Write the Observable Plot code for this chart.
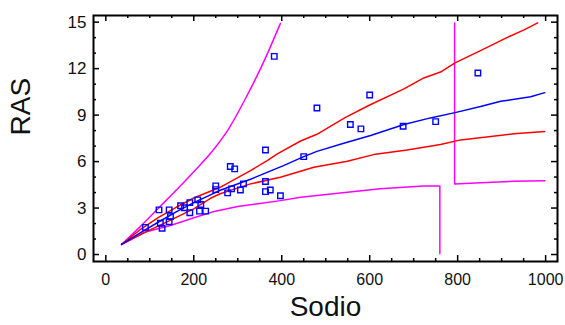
<!DOCTYPE html>
<html><head><meta charset="utf-8">
<script src="https://cdn.jsdelivr.net/npm/d3@7"></script>
<script src="https://cdn.jsdelivr.net/npm/@observablehq/plot@0.6"></script>
<style>
body{margin:0;background:#fff;}
#wrap{position:relative;width:565px;height:325px;overflow:hidden;}
#edge{position:absolute;left:6px;top:0;width:0;height:318px;border-left:1px solid #bdbdbd;}
#wrap svg{position:absolute;left:0;top:0;}
</style>
</head><body><div id="wrap"><div id="edge"></div></div>
<script>
// observed points
const sodio = [90,121,144,124,128,144,147,170,179,191,191,209,216,213,227,250,250,283,293,277,286,306,313,363,363,363,374,397,383,450,480,556,580,600,676,750,846];
const ras   = [1.75,2.88,2.88,2.02,1.70,2.12,2.45,3.15,3.02,3.35,2.70,3.53,3.23,2.80,2.80,4.43,4.19,5.68,5.53,3.98,4.24,4.17,4.56,6.75,4.71,4.06,4.17,3.79,12.79,6.32,9.46,8.39,8.11,10.3,8.28,8.58,11.72];

// fitted line (blue)
const fitX = [36,78,120,160,200,238,260,329,404,450,480,541,602,678,738,794,852,898,966,998];
const fitY = [0.65,1.4,2.1,2.75,3.35,3.85,4.15,4.86,5.74,6.32,6.66,7.18,7.68,8.39,8.82,9.16,9.55,9.89,10.19,10.45];
// confidence limits (red)
const confUpX = [36,78,120,160,200,260,329,367,390,443,480,545,600,678,723,761,794,852,913,951,982];
const confUpY = [0.65,1.6,2.4,3.05,3.65,4.34,5.42,6.06,6.5,7.33,7.76,8.85,9.65,10.69,11.4,11.78,12.37,13.16,14.02,14.5,14.95];
const confLoX = [36,78,120,160,200,238,260,329,397,473,549,609,685,761,807,928,998];
const confLoY = [0.65,1.29,1.85,2.4,2.95,3.63,3.92,4.56,4.99,5.63,6.02,6.45,6.75,7.1,7.4,7.79,7.94];
// prediction limits (magenta)
const predUpX = [36,80,120,160,200,240,280,320,360,397];
const predUpY = [0.65,1.85,3.0,4.15,5.35,6.6,8.15,10.2,12.5,14.92];
const predLoX = [36,90,147,204,249,300,350,397,443,549,624,723,759.5,759.5];
const predLoY = [0.65,1.45,1.87,2.41,2.8,3.1,3.3,3.48,3.7,4.02,4.24,4.43,4.43,0.05];
const predLo2X = [793,793,852,928,998];
const predLo2Y = [14.95,4.56,4.63,4.73,4.77];

// ticks
const xTicks = [0,200,400,600,800,1000];
const yTicks = [0,3,6,9,12,15];
const xMinor = [50,100,150,250,300,350,450,500,550,650,700,750,850,900,950];
const yMinor = [1,2,4,5,7,8,10,11,13,14];

const zip = (xs, ys) => xs.map((x, i) => ({x, y: ys[i]}));
const pts = zip(sodio, ras);

const W = 565, H = 325, mL = 93, mT = 15, mR = 8, mB = 64;
const pw = W - mL - mR, ph = H - mT - mB;
const maj = 6, mnr = 3;

const chart = Plot.plot({
  width: W, height: H,
  marginLeft: mL, marginTop: mT, marginRight: mR, marginBottom: mB,
  x: {domain: [-28, 1027]},
  y: {domain: [-0.45, 15.43]},
  style: {fontFamily: "'Liberation Sans', Arial, sans-serif", background: "white"},
  marks: [
    Plot.line(zip(predUpX, predUpY), {x: "x", y: "y", stroke: "#ff00ff", strokeWidth: 1.5, curve: "monotone-x"}),
    Plot.line(zip(predLoX, predLoY), {x: "x", y: "y", stroke: "#ff00ff", strokeWidth: 1.5}),
    Plot.line(zip(predLo2X, predLo2Y), {x: "x", y: "y", stroke: "#ff00ff", strokeWidth: 1.5}),
    Plot.line(zip(confUpX, confUpY), {x: "x", y: "y", stroke: "#ff0000", strokeWidth: 1.5}),
    Plot.line(zip(confLoX, confLoY), {x: "x", y: "y", stroke: "#ff0000", strokeWidth: 1.5}),
    Plot.line(zip(fitX, fitY), {x: "x", y: "y", stroke: "#0000ff", strokeWidth: 1.5}),
    Plot.dot(pts, {x: "x", y: "y", symbol: "square", r: 3.1, stroke: "#0000ff", strokeWidth: 1.4, fill: "none"}),
    // inward ticks on all four sides
    Plot.ruleX(xTicks, {x: d => d, insetTop: ph - maj, stroke: "black", strokeWidth: 1.5}),
    Plot.ruleX(xTicks, {x: d => d, insetBottom: ph - maj, stroke: "black", strokeWidth: 1.5}),
    Plot.ruleX(xMinor, {x: d => d, insetTop: ph - mnr, stroke: "black", strokeWidth: 1.5}),
    Plot.ruleX(xMinor, {x: d => d, insetBottom: ph - mnr, stroke: "black", strokeWidth: 1.5}),
    Plot.ruleY(yTicks, {y: d => d, insetRight: pw - maj, stroke: "black", strokeWidth: 1.5}),
    Plot.ruleY(yTicks, {y: d => d, insetLeft: pw - maj, stroke: "black", strokeWidth: 1.5}),
    Plot.ruleY(yMinor, {y: d => d, insetRight: pw - mnr, stroke: "black", strokeWidth: 1.5}),
    Plot.ruleY(yMinor, {y: d => d, insetLeft: pw - mnr, stroke: "black", strokeWidth: 1.5}),
    Plot.frame({stroke: "black", strokeWidth: 2}),
    Plot.axisX(xTicks, {tickSize: 0, tickPadding: 12, fontSize: 16, label: null, tickFormat: d => String(d), fill: "#111"}),
    Plot.axisY(yTicks, {tickSize: 0, tickPadding: 7, fontSize: 17, label: null, tickFormat: d => String(d), fill: "#111"}),
    Plot.text(["Sodio"], {frameAnchor: "bottom", dy: 54, fontSize: 28, text: d => d, fill: "#111"}),
    Plot.text(["RAS"], {frameAnchor: "left", dx: -72, dy: -3, rotate: -90, fontSize: 28, text: d => d, fill: "#111"})
  ]
});
document.getElementById("wrap").appendChild(chart);
</script>
</body></html>
